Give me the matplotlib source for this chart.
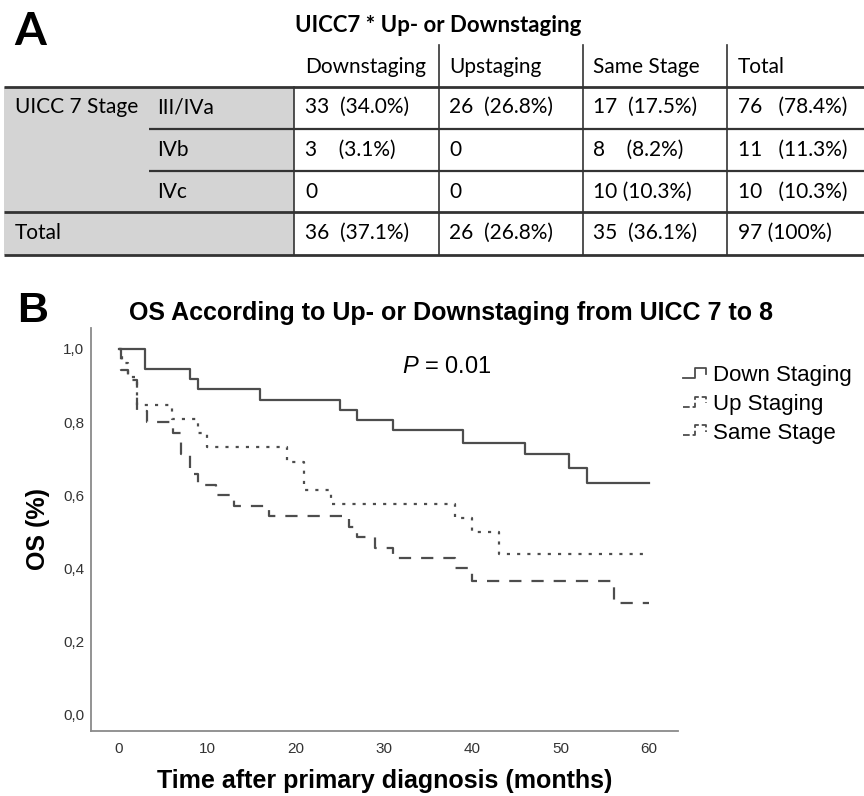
import matplotlib
matplotlib.use("Agg")
import matplotlib.pyplot as plt
from matplotlib.lines import Line2D
from matplotlib.patches import Rectangle
from matplotlib.legend_handler import HandlerBase

plt.rcParams['font.family'] = ['Liberation Sans', 'DejaVu Sans']
plt.rcParams['mathtext.fontset'] = 'custom'
plt.rcParams['mathtext.it'] = 'Liberation Sans:italic'
plt.rcParams['mathtext.rm'] = 'Liberation Sans'

# ---- panel A: cross table ----
table_title = "UICC7 * Up- or Downstaging"
col_labels = ["Downstaging", "Upstaging", "Same Stage", "Total"]
row_group = "UICC 7 Stage"
row_labels = ["III/IVa", "IVb", "IVc"]
row_cells = [
    ["33  (34.0%)", "26  (26.8%)", "17  (17.5%)", "76   (78.4%)"],
    ["3    (3.1%)", "0", "8    (8.2%)", "11   (11.3%)"],
    ["0", "0", "10 (10.3%)", "10   (10.3%)"],
]
total_cells = ["36  (37.1%)", "26  (26.8%)", "35  (36.1%)", "97 (100%)"]

# ---- panel B: Kaplan-Meier curves ----
down_t = [0, 3, 8, 9, 16, 25, 27, 31, 39, 46, 51, 53, 60]
down_s = [1.0, 0.944, 0.917, 0.889, 0.861, 0.833, 0.806, 0.778, 0.743, 0.712, 0.674, 0.633, 0.633]

up_t = [0, 0.3, 1, 2, 6, 9, 10, 19, 21, 24, 38, 40, 43, 60]
up_s = [1.0, 0.962, 0.923, 0.846, 0.808, 0.769, 0.731, 0.692, 0.615, 0.577, 0.538, 0.50, 0.44, 0.44]

same_t = [0, 0.2, 1, 2, 3.2, 6.1, 7, 8, 9, 11, 13, 17, 26, 27, 29, 31, 38, 40, 56, 60]
same_s = [1.0, 0.943, 0.914, 0.829, 0.800, 0.771, 0.714, 0.657, 0.629, 0.600, 0.571, 0.543,
          0.514, 0.486, 0.457, 0.429, 0.400, 0.366, 0.305, 0.305]

series_names = ["Down Staging", "Up Staging", "Same Stage"]
yticks = [0.0, 0.2, 0.4, 0.6, 0.8, 1.0]
xticks = [0, 10, 20, 30, 40, 50, 60]

W, H = 864, 796
fig = plt.figure(figsize=(W / 100, H / 100), dpi=100)

# overlay in pixel coords for the table
ax0 = fig.add_axes([0, 0, 1, 1])
ax0.set_xlim(0, W)
ax0.set_ylim(H, 0)
ax0.axis('off')

tfont = ['Lato', 'DejaVu Sans']
tsize = 15
ax0.text(14, 32, "A", fontsize=33, fontweight='bold', family=tfont, va='center', ha='left')
ax0.text(438, 26, table_title, fontsize=16, fontweight='bold', family=tfont, va='center', ha='center')

ax0.add_patch(Rectangle((4, 87), 290, 168, facecolor='#d4d4d4', edgecolor='none'))
lc = '#333333'
for y, x0, lw in [(87, 4, 2.0), (129, 149, 1.6), (171, 149, 1.6), (212, 4, 2.0), (255, 4, 2.0)]:
    ax0.plot([x0, W], [y, y], color=lc, lw=lw, solid_capstyle='butt')
ax0.plot([294, 294], [87, 255], color=lc, lw=1.2)
for x in [439, 583, 727]:
    ax0.plot([x, x], [45, 255], color=lc, lw=1.2)

col_x = [305, 449, 593, 738]
row_y = [107, 150, 192, 233]
for x, lab in zip(col_x, col_labels):
    ax0.text(x, 67, lab, fontsize=tsize, family=tfont, va='center', ha='left')
ax0.text(15, row_y[0], row_group, fontsize=tsize, family=tfont, va='center', ha='left')
for y, lab in zip(row_y, row_labels):
    ax0.text(157, y, lab, fontsize=tsize, family=tfont, va='center', ha='left')
ax0.text(15, row_y[3], "Total", fontsize=tsize, family=tfont, va='center', ha='left')
for y, row in zip(row_y, row_cells + [total_cells]):
    for x, s in zip(col_x, row):
        ax0.text(x, y, s, fontsize=tsize, family=tfont, va='center', ha='left')

# ---- panel B ----
fig.text(17 / W, 1 - 311 / H, "B", fontsize=31, fontweight='bold', va='center', ha='left')
fig.text(451 / W, 1 - 313 / H, "OS According to Up- or Downstaging from UICC 7 to 8",
         fontsize=18, fontweight='bold', va='center', ha='center')

ax = fig.add_axes([91 / W, 1 - 731 / H, 587 / W, 403 / H])
ax.patch.set_alpha(0)
col = '#4d4d4d'
l1, = ax.step(down_t, down_s, where='post', color=col, lw=1.6, ls='-')
l2, = ax.step(up_t, up_s, where='post', color=col, lw=1.6, ls=(0, (1.4, 3.2)))
l3, = ax.step(same_t, same_s, where='post', color=col, lw=1.6, ls=(0, (5.5, 4.5)))

ax.set_xlim(-3.17, 63.3)
ax.set_ylim(-0.044, 1.057)
ax.set_yticks(yticks)
ax.set_yticklabels([f"{v:.1f}".replace('.', ',') for v in yticks])
ax.set_xticks(xticks)
ax.tick_params(length=0, labelsize=11, labelcolor='#333333')
ax.tick_params(axis='y', pad=5)
ax.tick_params(axis='x', pad=8)
for s in ['top', 'right']:
    ax.spines[s].set_visible(False)
for s in ['left', 'bottom']:
    ax.spines[s].set_color('#8a8a8a')
    ax.spines[s].set_linewidth(1.3)

ax.set_ylabel("OS (%)", fontsize=18, fontweight='bold')
ax.yaxis.set_label_coords(-0.07, 0.5)
ax.set_xlabel("Time after primary diagnosis (months)", fontsize=18, fontweight='bold')
ax.xaxis.set_label_coords(0.5, -0.095)

ax.text(32.0, 0.95, r"$P$ = 0.01", fontsize=17, va='center', ha='left')


class StepHandler(HandlerBase):
    def create_artists(self, legend, orig_handle, xdescent, ydescent, width, height, fontsize, trans):
        xs = [0, 0.45 * width, 0.45 * width, 0.85 * width, 0.85 * width]
        ys = [0.2 * height, 0.2 * height, 0.85 * height, 0.85 * height, 0.45 * height]
        ln = Line2D([x - xdescent for x in xs], [y - ydescent for y in ys],
                    color=orig_handle.get_color(), lw=1.3,
                    linestyle=orig_handle.get_linestyle(), transform=trans)
        return [ln]


handler = StepHandler()
ax.legend([l1, l2, l3], series_names, handler_map={l1: handler, l2: handler, l3: handler},
          loc='upper left', bbox_to_anchor=(683 / W, 1 - 365 / H), bbox_transform=fig.transFigure,
          frameon=False, fontsize=16, handlelength=1.2, handletextpad=0.15,
          labelspacing=0.35, borderpad=0, borderaxespad=0)

fig.savefig("out.png", dpi=100)
